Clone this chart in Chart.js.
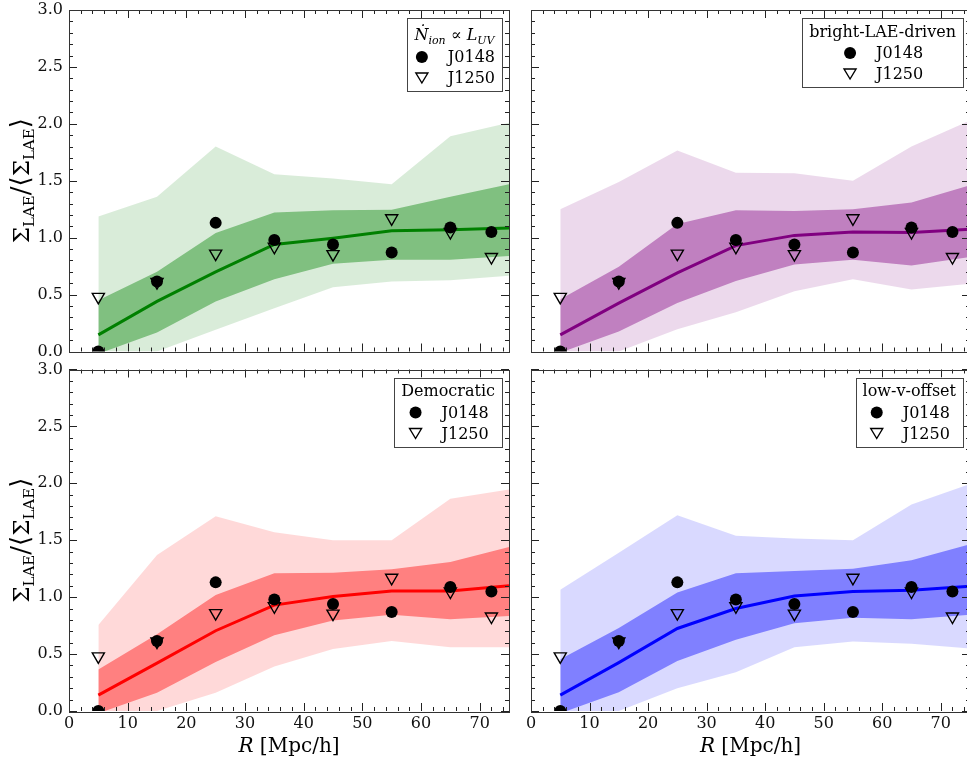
<!DOCTYPE html>
<html>
<head>
<meta charset="utf-8">
<script src="https://cdn.jsdelivr.net/npm/chart.js@4/dist/chart.umd.min.js"></script>
<style>
  html, body { margin: 0; padding: 0; background: #fff; overflow: hidden; }
  canvas { position: absolute; left: 0; top: 0; }
</style>
</head>
<body>
<canvas id="tl" width="980" height="762"></canvas>
<canvas id="tr" width="980" height="762"></canvas>
<canvas id="bl" width="980" height="762"></canvas>
<canvas id="br" width="980" height="762"></canvas>
<script>
// Rayons des bins (observations et modèle)
const obsR = [5, 15, 25, 35, 45, 55, 65, 72]
const modelR = [5, 15, 25, 35, 45, 55, 65, 75]

// Observations (identiques dans les quatre panneaux)
const j0148 = [0.0, 0.615, 1.13, 0.98, 0.94, 0.87, 1.09, 1.05]
const j1250 = [0.48, 0.61, 0.86, 0.92, 0.855, 1.17, 1.05, 0.83]

// Modèle N_ion ∝ L_UV
const luvMedian = [0.146, 0.44, 0.70, 0.94, 0.995, 1.06, 1.07, 1.085]
const luvHi68 = [0.45, 0.70, 1.04, 1.22, 1.24, 1.245, 1.36, 1.47]
const luvLo68 = [-0.02, 0.167, 0.44, 0.635, 0.77, 0.805, 0.805, 0.84]
const luvHi95 = [1.185, 1.36, 1.80, 1.557, 1.52, 1.47, 1.89, 2.01]
const luvLo95 = [-0.25, 0.0, 0.19, 0.38, 0.565, 0.615, 0.625, 0.665]

// Modèle bright-LAE-driven
const brightMedian = [0.146, 0.425, 0.69, 0.93, 1.02, 1.05, 1.045, 1.075]
const brightHi68 = [0.46, 0.745, 1.12, 1.24, 1.235, 1.25, 1.31, 1.46]
const brightLo68 = [-0.01, 0.175, 0.425, 0.62, 0.765, 0.805, 0.755, 0.83]
const brightHi95 = [1.25, 1.49, 1.765, 1.57, 1.565, 1.50, 1.80, 2.03]
const brightLo95 = [-0.25, 0.0, 0.195, 0.345, 0.53, 0.635, 0.545, 0.595]

// Modèle Democratic
const demoMedian = [0.14, 0.42, 0.705, 0.93, 1.005, 1.055, 1.055, 1.10]
const demoHi68 = [0.365, 0.675, 1.02, 1.21, 1.215, 1.245, 1.31, 1.44]
const demoLo68 = [-0.02, 0.16, 0.43, 0.665, 0.795, 0.845, 0.805, 0.835]
const demoHi95 = [0.755, 1.37, 1.71, 1.57, 1.50, 1.50, 1.865, 1.945]
const demoLo95 = [-0.25, 0.0, 0.16, 0.39, 0.545, 0.615, 0.56, 0.56]

// Modèle low-v-offset
const lowvMedian = [0.14, 0.425, 0.725, 0.90, 1.01, 1.05, 1.06, 1.095]
const lowvHi68 = [0.455, 0.73, 1.04, 1.21, 1.23, 1.25, 1.325, 1.465]
const lowvLo68 = [-0.02, 0.165, 0.44, 0.625, 0.77, 0.82, 0.805, 0.845]
const lowvHi95 = [1.065, 1.39, 1.72, 1.54, 1.515, 1.50, 1.815, 1.995]
const lowvLo95 = [-0.25, 0.0, 0.20, 0.34, 0.56, 0.61, 0.59, 0.55]

// Axes
const xMin = 0
const xMax = 75
const yMin = 0
const yMax = 3
const xMajor = 10
const xMinor = 2
const yMajor = 0.5
const yMinor = 0.1
const seriesNames = ["J0148", "J1250"]

const CW = 980
const CH = 762
const SERIF = "'DejaVu Serif', 'Liberation Serif', serif"

const xy = (xs, ys) => xs.map((x, i) => ({ x, y: ys[i] }))
const rgba = (c, a) => `rgba(${c[0]}, ${c[1]}, ${c[2]}, ${a})`

/**
 * Dessine un texte composé (indices, italique) sur une ligne
 */
const drawRich = (ctx, parts, x, y, align) => {
  const widths = parts.map((p) => {
    ctx.font = p.font
    return ctx.measureText(p.text).width
  })
  const total = widths.reduce((a, b) => a + b, 0)
  let cx = align === "center" ? x - total / 2 : align === "right" ? x - total : x
  ctx.textAlign = "left"
  ctx.textBaseline = "alphabetic"
  parts.forEach((p, i) => {
    ctx.font = p.font
    ctx.fillText(p.text, cx, y + (p.dy || 0))
    cx += widths[i]
  })
  return total
}

const measureRich = (ctx, parts) =>
  parts.reduce((s, p) => {
    ctx.font = p.font
    return s + ctx.measureText(p.text).width
  }, 0)

const yTitleParts = [
  { text: "Σ", font: `23px ${SERIF}` },
  { text: "LAE", font: `15px ${SERIF}`, dy: 5 },
  { text: "/", font: `26px ${SERIF}` },
  { text: "⟨", font: `26px ${SERIF}` },
  { text: "Σ", font: `23px ${SERIF}` },
  { text: "LAE", font: `15px ${SERIF}`, dy: 5 },
  { text: "⟩", font: `26px ${SERIF}` },
]

const xTitleParts = [
  { text: "R", font: `italic 20px ${SERIF}` },
  { text: " [Mpc/h]", font: `20px ${SERIF}` },
]

// Cadre, graduations internes, légende et titres des axes
const panelDeco = {
  id: "panelDeco",
  afterDatasetsDraw(chart, args, opts) {
    const { ctx, chartArea: a, scales } = chart
    const xs = scales.x
    const ys = scales.y
    ctx.save()
    ctx.strokeStyle = "#222"
    ctx.lineWidth = 1
    ctx.beginPath()
    for (let v = xMin; v <= xMax + 1e-9; v += xMinor) {
      const px = Math.round(xs.getPixelForValue(v)) + 0.5
      const len = Math.abs(v / xMajor - Math.round(v / xMajor)) < 1e-6 ? 8 : 4
      ctx.moveTo(px, a.bottom)
      ctx.lineTo(px, a.bottom - len)
      ctx.moveTo(px, a.top)
      ctx.lineTo(px, a.top + len)
    }
    for (let v = yMin; v <= yMax + 1e-9; v += yMinor) {
      const py = Math.round(ys.getPixelForValue(v)) + 0.5
      const len = Math.abs(v / yMajor - Math.round(v / yMajor)) < 1e-6 ? 8 : 4
      ctx.moveTo(a.left, py)
      ctx.lineTo(a.left + len, py)
      ctx.moveTo(a.right, py)
      ctx.lineTo(a.right - len, py)
    }
    ctx.stroke()
    ctx.strokeStyle = "#333"
    ctx.strokeRect(Math.round(a.left) + 0.5, Math.round(a.top) + 0.5,
      Math.round(a.right - a.left), Math.round(a.bottom - a.top))

    // légende
    ctx.fillStyle = "#000"
    const titleW = measureRich(ctx, opts.title)
    ctx.font = `16px ${SERIF}`
    const entryW = ctx.measureText(seriesNames[0]).width
    const blockW = 34 + entryW
    const boxW = Math.max(titleW, blockW) + 14
    const boxH = opts.boxH
    const right = a.right - 7
    const top = a.top + 8
    const left = right - boxW
    const cx = left + boxW / 2
    ctx.fillStyle = "#fff"
    ctx.fillRect(left, top, boxW, boxH)
    ctx.strokeStyle = "#444"
    ctx.strokeRect(Math.round(left) + 0.5, Math.round(top) + 0.5, Math.round(boxW), boxH)
    ctx.fillStyle = "#000"
    drawRich(ctx, opts.title, cx, top + opts.titleY, "center")
    const bx = cx - blockW / 2
    const row1 = top + boxH - 34
    const row2 = top + boxH - 13
    ctx.beginPath()
    ctx.arc(bx + 8, row1, 6, 0, Math.PI * 2)
    ctx.fill()
    ctx.beginPath()
    ctx.lineWidth = 1.4
    ctx.moveTo(bx + 2, row2 - 5)
    ctx.lineTo(bx + 14, row2 - 5)
    ctx.lineTo(bx + 8, row2 + 5)
    ctx.closePath()
    ctx.strokeStyle = "#000"
    ctx.stroke()
    ctx.font = `16px ${SERIF}`
    ctx.textAlign = "left"
    ctx.textBaseline = "middle"
    ctx.fillText(seriesNames[0], bx + 34, row1 + 1)
    ctx.fillText(seriesNames[1], bx + 34, row2 + 1)

    // titres des axes
    if (opts.showX) {
      drawRich(ctx, xTitleParts, (a.left + a.right) / 2, 752, "center")
    }
    if (opts.showY) {
      ctx.save()
      ctx.translate(29, (a.top + a.bottom) / 2)
      ctx.rotate(-Math.PI / 2)
      drawRich(ctx, yTitleParts, 0, 0, "center")
      ctx.restore()
    }
    ctx.restore()
  },
}

const panels = [
  {
    id: "tl", color: [0, 128, 0], showX: false, showY: true,
    area: { l: 69, t: 10, r: 509, b: 351.5 },
    median: luvMedian, hi68: luvHi68, lo68: luvLo68, hi95: luvHi95, lo95: luvLo95,
    boxH: 73, titleY: 22,
    title: [
      { text: "Ṅ", font: `italic 16px ${SERIF}` },
      { text: "ion", font: `italic 11px ${SERIF}`, dy: 4 },
      { text: " ∝ ", font: `16px ${SERIF}` },
      { text: "L", font: `italic 16px ${SERIF}` },
      { text: "UV", font: `italic 11px ${SERIF}`, dy: 4 },
    ],
  },
  {
    id: "tr", color: [128, 0, 128], showX: false, showY: false,
    area: { l: 531, t: 10, r: 970, b: 351.5 },
    median: brightMedian, hi68: brightHi68, lo68: brightLo68, hi95: brightHi95, lo95: brightLo95,
    boxH: 69, titleY: 19,
    title: [{ text: "bright-LAE-driven", font: `16px ${SERIF}` }],
  },
  {
    id: "bl", color: [255, 0, 0], showX: true, showY: true,
    area: { l: 69, t: 369.5, r: 509, b: 711 },
    median: demoMedian, hi68: demoHi68, lo68: demoLo68, hi95: demoHi95, lo95: demoLo95,
    boxH: 69, titleY: 18,
    title: [{ text: "Democratic", font: `16px ${SERIF}` }],
  },
  {
    id: "br", color: [0, 0, 255], showX: true, showY: false,
    area: { l: 531, t: 369.5, r: 970, b: 711 },
    median: lowvMedian, hi68: lowvHi68, lo68: lowvLo68, hi95: lowvHi95, lo95: lowvLo95,
    boxH: 69, titleY: 18,
    title: [{ text: "low-v-offset", font: `16px ${SERIF}` }],
  },
]

const zeroPadding = (scale) => {
  scale.paddingLeft = 0
  scale.paddingRight = 0
  scale.paddingTop = 0
  scale.paddingBottom = 0
}

const createPanel = (p) => {
  const canvas = document.getElementById(p.id)
  if (!canvas) return null
  const ctx = canvas.getContext("2d")
  const yW = p.showY ? p.area.l : 0
  const xH = p.showX ? CH - p.area.b : 0
  const band = { borderWidth: 0, pointRadius: 0, tension: 0 }

  return new Chart(ctx, {
    type: "line",
    data: {
      datasets: [
        { ...band, data: xy(modelR, p.hi95), fill: "+1", backgroundColor: rgba(p.color, 0.15), order: 6 },
        { ...band, data: xy(modelR, p.lo95), fill: false, order: 5 },
        { ...band, data: xy(modelR, p.hi68), fill: "+1", backgroundColor: rgba(p.color, 0.41), order: 4 },
        { ...band, data: xy(modelR, p.lo68), fill: false, order: 3 },
        {
          data: xy(modelR, p.median),
          borderColor: rgba(p.color, 1),
          borderWidth: 3,
          pointRadius: 0,
          fill: false,
          order: 2,
        },
        {
          label: seriesNames[0],
          data: xy(obsR, j0148),
          showLine: false,
          pointStyle: "circle",
          pointRadius: 6,
          backgroundColor: "#000",
          borderColor: "#000",
          borderWidth: 0,
          clip: 0,
          order: 1,
        },
        {
          label: seriesNames[1],
          data: xy(obsR, j1250),
          showLine: false,
          pointStyle: "triangle",
          rotation: 180,
          pointRadius: 7,
          backgroundColor: "rgba(0,0,0,0)",
          borderColor: "#000",
          borderWidth: 1.4,
          clip: 0,
          order: 0,
        },
      ],
    },
    options: {
      responsive: false,
      animation: false,
      events: [],
      layout: {
        padding: {
          left: p.area.l - yW,
          top: p.area.t,
          right: CW - p.area.r,
          bottom: CH - p.area.b - xH,
        },
      },
      plugins: {
        legend: { display: false },
        tooltip: { enabled: false },
        panelDeco: { title: p.title, boxH: p.boxH, titleY: p.titleY, showX: p.showX, showY: p.showY },
      },
      scales: {
        x: {
          type: "linear",
          min: xMin,
          max: xMax,
          grid: { display: false, drawTicks: false },
          border: { display: false },
          ticks: {
            display: p.showX,
            stepSize: xMajor,
            includeBounds: false,
            autoSkip: false,
            maxRotation: 0,
            padding: 3,
            color: "#111",
            font: { family: SERIF, size: 16 },
            callback: (v) => `${v}`,
          },
          afterFit: (scale) => {
            scale.height = xH
            zeroPadding(scale)
          },
        },
        y: {
          type: "linear",
          min: yMin,
          max: yMax,
          grid: { display: false, drawTicks: false },
          border: { display: false },
          ticks: {
            display: p.showY,
            stepSize: yMajor,
            autoSkip: false,
            padding: 6,
            color: "#111",
            font: { family: SERIF, size: 16 },
            callback: (v) => Number(v).toFixed(1),
          },
          afterFit: (scale) => {
            scale.width = yW
            zeroPadding(scale)
          },
        },
      },
    },
    plugins: [panelDeco],
  })
}

panels.forEach(createPanel)
</script>
</body>
</html>
